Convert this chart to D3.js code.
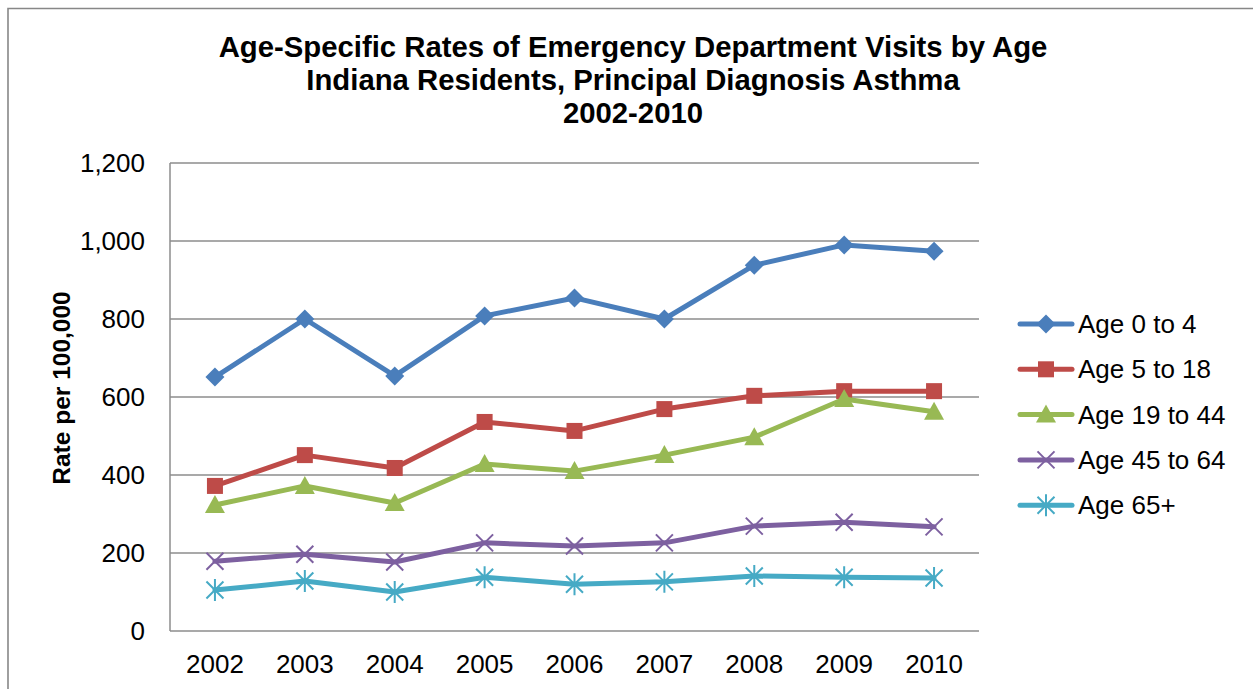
<!DOCTYPE html>
<html>
<head>
<meta charset="utf-8">
<script src="https://cdn.jsdelivr.net/npm/d3@7"></script>
<style>
  body { margin: 0; background: #fff; }
  text { font-family: "Liberation Sans", Arial, sans-serif; }
</style>
</head>
<body>
<svg width="1253" height="689"></svg>
<script>
// data
const years = ["2002", "2003", "2004", "2005", "2006", "2007", "2008", "2009", "2010"];
const age0to4   = [651, 800, 654, 808, 854, 800, 938, 990, 974];
const age5to18  = [372, 451, 418, 536, 513, 569, 603, 615, 615];
const age19to44 = [323, 372, 328, 428, 410, 451, 497, 595, 562];
const age45to64 = [179, 197, 177, 226, 218, 226, 269, 279, 267];
const age65plus = [105, 128, 100, 138, 120, 126, 141, 138, 136];
const yTicks = [0, 200, 400, 600, 800, 1000, 1200];

const series = [
  { name: "Age 0 to 4",   values: age0to4,   color: "#4a7ebb", marker: "diamond" },
  { name: "Age 5 to 18",  values: age5to18,  color: "#be4b48", marker: "square" },
  { name: "Age 19 to 44", values: age19to44, color: "#98b954", marker: "triangle" },
  { name: "Age 45 to 64", values: age45to64, color: "#7d60a0", marker: "x" },
  { name: "Age 65+",      values: age65plus, color: "#46aac5", marker: "star" }
];

const plot = { left: 170, right: 979, top: 163, bottom: 631 };

const svg = d3.select("svg");

// outer chart frame (only top/left visible in the crop)
svg.append("path")
    .attr("d", "M8,700 L8,8.5 L1260,8.5")
    .attr("fill", "none")
    .attr("stroke", "#878787")
    .attr("stroke-width", 1.6);

const x = d3.scalePoint()
    .domain(years)
    .range([plot.left, plot.right])
    .padding(0.5);

const y = d3.scaleLinear()
    .domain([0, 1200])
    .range([plot.bottom, plot.top]);

// gridlines
svg.append("g")
    .selectAll("line")
    .data(yTicks)
    .enter()
    .append("line")
    .attr("x1", plot.left)
    .attr("x2", plot.right)
    .attr("y1", d => y(d))
    .attr("y2", d => y(d))
    .attr("stroke", "#8c8c8c")
    .attr("stroke-width", 1.5);

// y axis line
svg.append("line")
    .attr("x1", plot.left).attr("x2", plot.left)
    .attr("y1", plot.top).attr("y2", plot.bottom)
    .attr("stroke", "#8c8c8c")
    .attr("stroke-width", 1.5);

// y tick labels
svg.append("g")
    .selectAll("text")
    .data(yTicks)
    .enter()
    .append("text")
    .attr("x", plot.left - 25)
    .attr("y", d => y(d) + 9)
    .attr("text-anchor", "end")
    .attr("font-size", "26px")
    .text(d => d3.format(",")(d));

// x tick labels
svg.append("g")
    .selectAll("text")
    .data(years)
    .enter()
    .append("text")
    .attr("x", d => x(d))
    .attr("y", 673)
    .attr("text-anchor", "middle")
    .attr("font-size", "26px")
    .text(d => d);

// axis title
svg.append("text")
    .attr("transform", `translate(70, 388) rotate(-90)`)
    .attr("text-anchor", "middle")
    .attr("font-size", "24.5px")
    .attr("font-weight", "bold")
    .text("Rate per 100,000");

// chart title
const titleLines = ["Age-Specific Rates of Emergency Department Visits by Age",
                    "Indiana Residents, Principal Diagnosis Asthma",
                    "2002-2010"];
svg.append("g")
    .selectAll("text")
    .data(titleLines)
    .enter()
    .append("text")
    .attr("x", 633)
    .attr("y", (d, i) => 57 + i * 33)
    .attr("text-anchor", "middle")
    .attr("font-size", "29.3px")
    .attr("font-weight", "bold")
    .text(d => d);

// marker drawing
function drawMarker(g, type, color) {
  if (type === "diamond") {
    g.append("path").attr("d", "M0,-9.5 L9.5,0 L0,9.5 L-9.5,0 Z").attr("fill", color);
  } else if (type === "square") {
    g.append("rect").attr("x", -8).attr("y", -8).attr("width", 16).attr("height", 16).attr("fill", color);
  } else if (type === "triangle") {
    g.append("path").attr("d", "M0,-10 L10,8 L-10,8 Z").attr("fill", color);
  } else if (type === "x") {
    g.append("path").attr("d", "M-8.5,-8.5 L8.5,8.5 M-8.5,8.5 L8.5,-8.5")
        .attr("stroke", color).attr("stroke-width", 2);
  } else if (type === "star") {
    g.append("path").attr("d", "M-8.5,-8.5 L8.5,8.5 M-8.5,8.5 L8.5,-8.5 M0,-11 L0,11")
        .attr("stroke", color).attr("stroke-width", 2);
  }
}

const line = d3.line()
    .x((d, i) => x(years[i]))
    .y(d => y(d));

series.forEach(s => {
  const g = svg.append("g");
  g.append("path")
      .attr("d", line(s.values))
      .attr("fill", "none")
      .attr("stroke", s.color)
      .attr("stroke-width", 5)
      .attr("stroke-linejoin", "round")
      .attr("stroke-linecap", "round");
  s.values.forEach((v, i) => {
    const m = g.append("g").attr("transform", `translate(${x(years[i])},${y(v)})`);
    drawMarker(m, s.marker, s.color);
  });
});

// --- Legend ---
const legend = svg.append("g");
series.forEach((s, i) => {
  const row = legend.append("g")
      .attr("transform", `translate(1018, ${324 + i * 45.3})`);
  row.append("line")
      .attr("x1", 2).attr("x2", 54)
      .attr("stroke", s.color)
      .attr("stroke-width", 5)
      .attr("stroke-linecap", "round");
  const m = row.append("g").attr("transform", "translate(28,0)");
  drawMarker(m, s.marker, s.color);
  row.append("text")
      .attr("x", 60)
      .attr("y", 9)
      .attr("font-size", "26px")
      .text(s.name);
});
</script>
</body>
</html>
